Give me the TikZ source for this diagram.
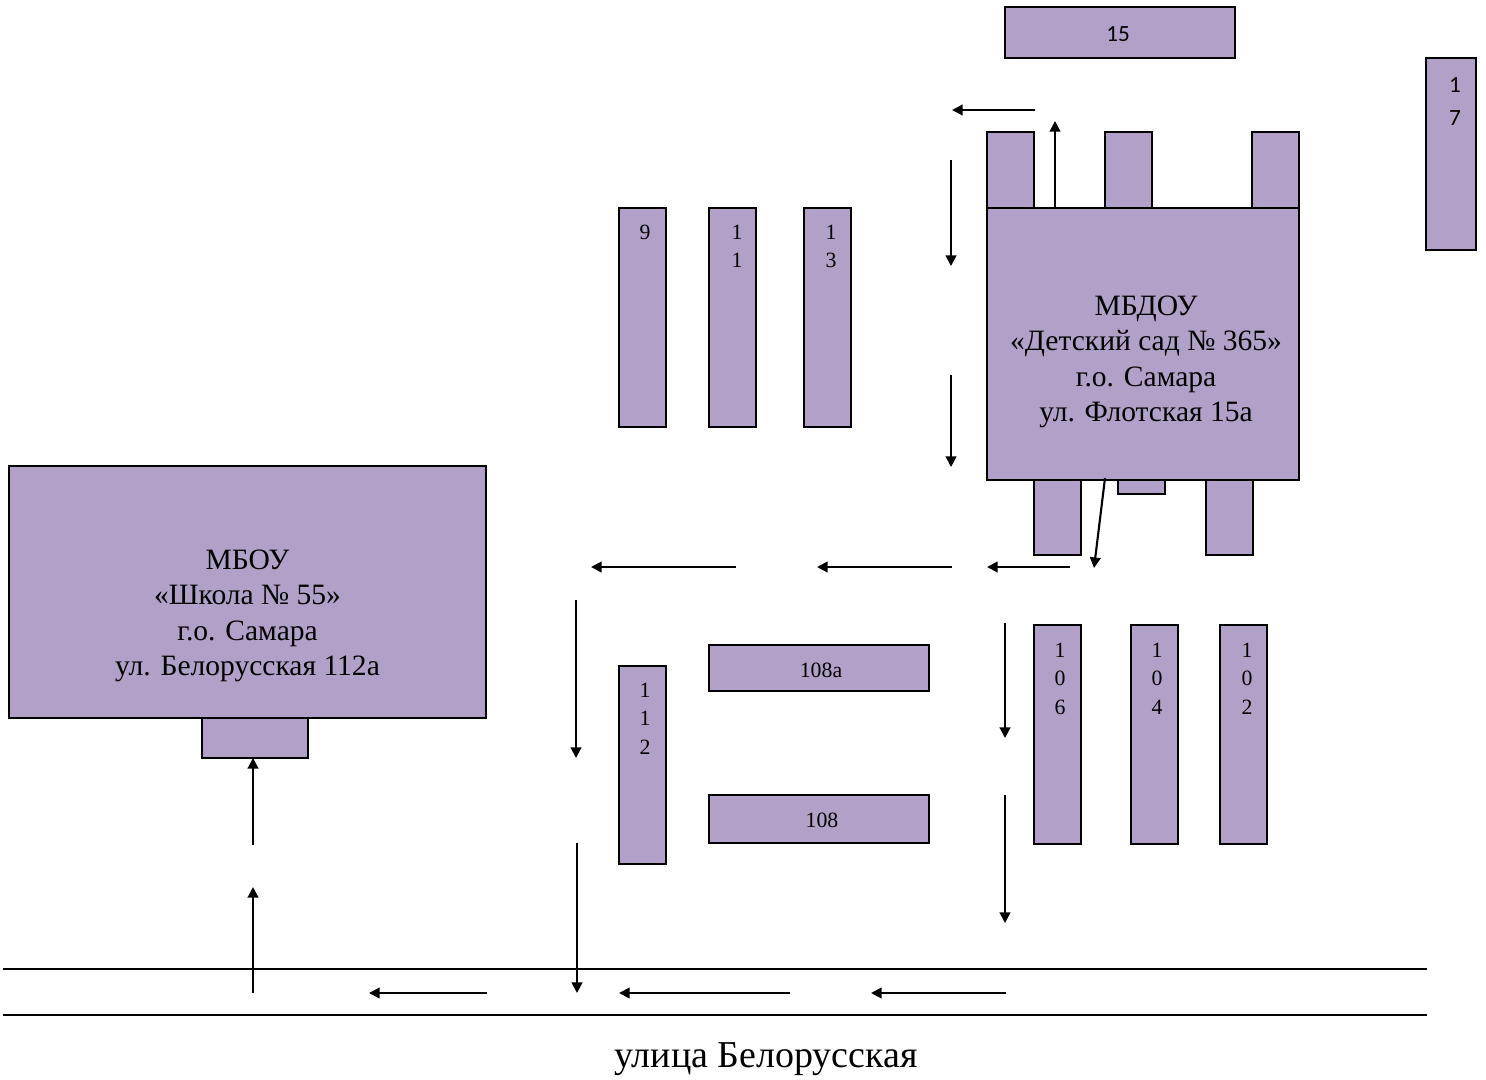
\documentclass[tikz,border=0pt]{standalone}
\usepackage{fontspec}
\setmainfont{Liberation Serif}
\newfontfamily\calibri{Carlito}
\usetikzlibrary{arrows.meta,fit}
\definecolor{lilac}{HTML}{B1A0C7}
\tikzset{
  house/.style={draw=black, line width=0.5pt, fill=lilac, inner sep=0pt},
  arr/.style={line width=0.6pt, -{Triangle[length=3pt,width=3pt]}},
  road/.style={line width=0.45pt},
  num/.style={font=\fontsize{6.2}{8.15}\selectfont, align=center, anchor=north, inner sep=0pt},
  big/.style={font=\fontsize{8.4}{10.1}\selectfont, align=center, anchor=north, inner sep=0pt},
}
\newcommand{\house}[5]{\node[house, fit={(#2,#3) (#4,#5)}] (#1) {};}
\begin{document}
\begin{tikzpicture}[x=0.01cm, y=-0.01cm]
\useasboundingbox (0,0) rectangle (1486,1079);
% road
\coordinate (R_1a) at (3,969);
\coordinate (R_1b) at (1427,969);
\coordinate (R_2a) at (3,1015);
\coordinate (R_2b) at (1427,1015);
\draw[road] (R_1a) -- (R_1b);
\draw[road] (R_2a) -- (R_2b);
\node[font=\fontsize{10.8}{12}\selectfont, anchor=base, inner sep=0pt] (T_road) at (766,1067) {улица Белорусская};
% school
\house{H_school}{9}{466}{486}{718}
\house{H_school_1}{202}{718}{308}{758}
\node[big] (T_school) at (247.5,549) {МБОУ\\«Школа № 55»\\г.о. Самара\\ул. Белорусская 112а};
% kindergarten
\house{H_kg}{987}{208}{1299}{480}
\house{H_kg_1}{987}{132}{1034}{208}
\house{H_kg_2}{1105}{132}{1152}{208}
\house{H_kg_3}{1252}{132}{1299}{208}
\house{H_kg_4}{1034}{480}{1081}{555}
\house{H_kg_5}{1118}{480}{1165}{494}
\house{H_kg_6}{1206}{480}{1253}{555}
\node[big] (T_kg) at (1146,295) {МБДОУ\\«Детский сад № 365»\\г.о. Самара\\ул. Флотская 15а};
% houses
\house{H_15}{1005}{7}{1235}{58}
\node[num, font=\calibri\fontsize{6.6}{9.4}\selectfont] (L_15) at (1118,26) {15};
\house{H_17}{1426}{58}{1476}{250}
\node[num, font=\calibri\fontsize{6.6}{9.4}\selectfont] (L_17) at (1455,77) {1\\7};
\house{H_9}{619}{208}{666}{427}
\node[num] (L_9) at (645,224) {9};
\house{H_11}{709}{208}{756}{427}
\node[num] (L_11) at (737,224) {1\\1};
\house{H_13}{804}{208}{851}{427}
\node[num] (L_13) at (831,224) {1\\3};
\house{H_112}{619}{666}{666}{864}
\node[num] (L_112) at (645,682) {1\\1\\2};
\house{H_108a}{709}{645}{929}{691}
\node[num] (L_108a) at (821,662) {108а};
\house{H_108}{709}{795}{929}{843}
\node[num] (L_108) at (822,812) {108};
\house{H_106}{1034}{625}{1081}{844}
\node[num] (L_106) at (1060,642) {1\\0\\6};
\house{H_104}{1131}{625}{1178}{844}
\node[num] (L_104) at (1157,642) {1\\0\\4};
\house{H_102}{1220}{625}{1267}{844}
\node[num] (L_102) at (1247,642) {1\\0\\2};
% arrows
\foreach \n/\xa/\ya/\xb/\yb in {
  1/1035/110/952/110, 2/1055/208/1055/121, 3/951/160/951/266, 4/951/375/951/467,
  5/1105/478/1094/568, 6/1070/567/987/567, 7/952/567/817/567, 8/736/567/591/567,
  9/576/600/576/758, 10/577/843/577/993, 11/253/845/253/758, 12/253/993/253/887,
  13/1005/623/1005/738, 14/1005/795/1005/923, 15/1006/993/871/993,
  16/790/993/619/993, 17/487/993/369/993} {
  \coordinate (A_\n a) at (\xa,\ya);
  \coordinate (A_\n b) at (\xb,\yb);
  \draw[arr] (A_\n a) -- (A_\n b);
}
\end{tikzpicture}
\end{document}
